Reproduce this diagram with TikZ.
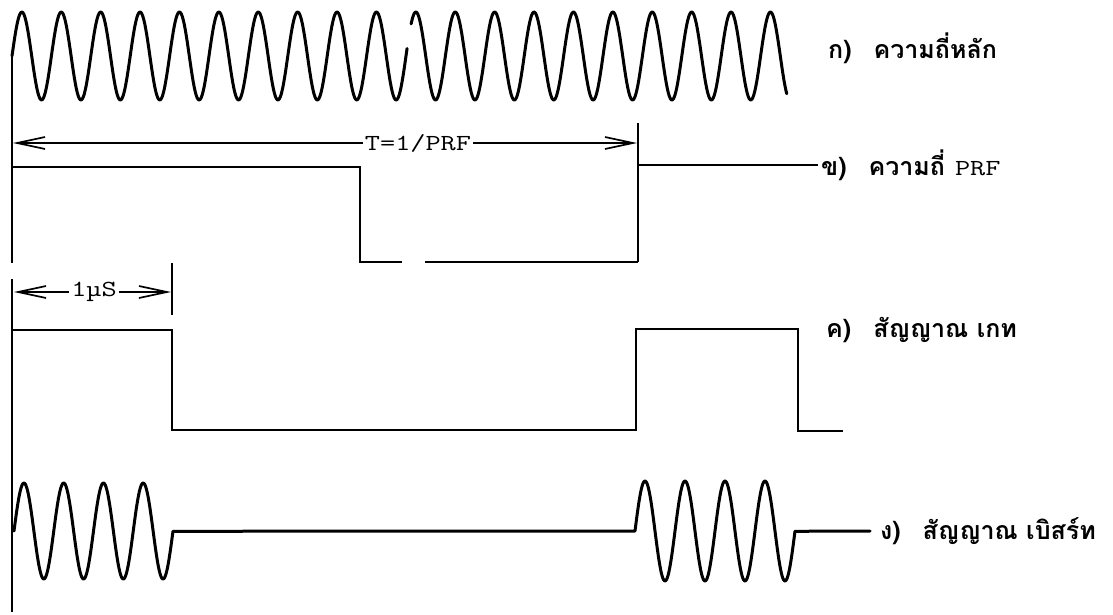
\documentclass[tikz,border=0pt]{standalone}
\usepackage{fontspec}
\usepackage{graphicx}
\usetikzlibrary{arrows.meta}
\newfontfamily\thaifont[Script=Thai]{Loma}
\tikzset{
  wave/.style={line width=3pt, line join=round, line cap=round},
  sig/.style={line width=2.6pt, line join=miter},
  axisline/.style={line width=2.4pt},
  dimline/.style={line width=1.7pt},
  dimarrow/.style={dimline, -{Straight Barb[length=28pt,width=12pt,line width=1.7pt]}},
  lbl/.style={anchor=west, inner sep=0pt, font=\thaifont\bfseries\fontsize{25}{28}\selectfont},
  tw/.style={inner sep=2pt, font=\ttfamily\fontsize{23}{26}\selectfont},
}
\newcommand{\wide}[1]{\scalebox{1.28}[1]{#1}}
\begin{document}
\begin{tikzpicture}[x=1pt,y=-1pt]
\useasboundingbox (0,0) rectangle (1113,614);
% axis
\draw[axisline] (12,57) -- (12,263);
\draw[axisline] (12,279) -- (12,612);
% a) carrier
\draw[wave] plot[domain=0:10.03, samples=400] ({12+39.4*\x},{56-44*sin(360*\x)});
\draw[wave] plot[domain=10.13:19.67, samples=400] ({12+39.4*\x},{56-44*sin(360*\x)});
% labels
\node[lbl] (la) at (828,48) {ก)\hspace{22pt}ความถี่หลัก};
\node[lbl] (lb) at (821,165) {ข)\hspace{22pt}ความถี่\hspace{10pt}{\mdseries\ttfamily\fontsize{23}{26}\selectfont\wide{PRF}}};
\node[lbl] (lc) at (826,330) {ค)\hspace{22pt}สัญญาณ เกท};
\node[lbl] (ld) at (880,531) {ง)\hspace{22pt}สัญญาณ เบิสร์ท};
% b) PRF
\draw[sig] (12,167) -- (360,167) -- (360,262) -- (402,262);
\draw[sig] (425,262) -- (638,262);
\draw[sig] (638,123) -- (638,262);
\coordinate (prfhi) at (638,165);
\draw[sig] (prfhi) -- ([xshift=-3pt]lb.west);
% T = 1/PRF dimension
\node[tw] (tdim) at (418,143) {\wide{T=1/PRF}};
\coordinate (tl) at (13,143);
\coordinate (tr) at (637,143);
\draw[dimarrow] (tdim.west) -- (tl);
\draw[dimarrow] (tdim.east) -- (tr);
% 1 us dimension
\draw[dimline] (172,263) -- (172,315);
\node[tw] (udim) at (94,292) {\wide{1µS}};
\coordinate (ul) at (14,292);
\coordinate (ur) at (171,292);
\draw[dimarrow] (udim.west) -- (ul);
\draw[dimarrow] (udim.east) -- (ur);
% c) gate
\draw[sig] (12,330) -- (172,330) -- (172,430) -- (636,430) -- (636,329) -- (798,329) -- (798,431) -- (843,431);
% d) burst
\draw[wave] plot[domain=0:4, samples=200] ({14+39.75*\x},{531-48*sin(360*\x)})
  -- (635,531)
  -- plot[domain=0:4, samples=200] ({635+40*\x},{531-50*sin(360*\x)})
  -- ([xshift=-10pt]ld.west);
\end{tikzpicture}
\end{document}
